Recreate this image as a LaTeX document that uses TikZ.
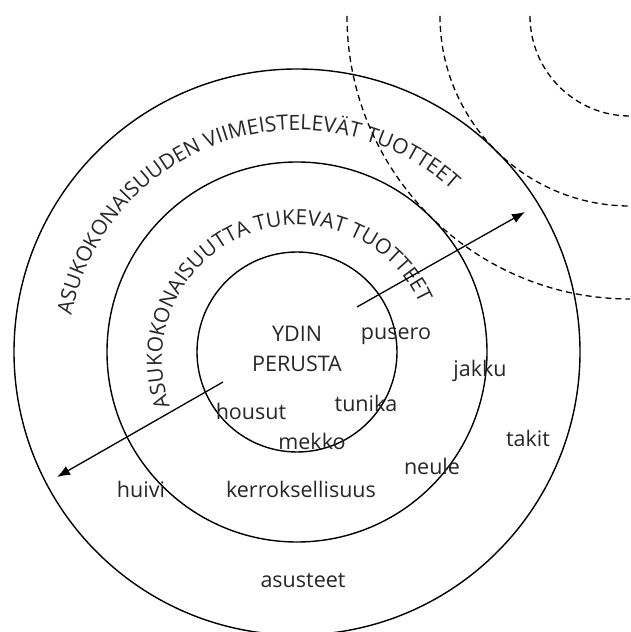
\documentclass[tikz,border=0pt]{standalone}
\usepackage{fontspec}
\setmainfont{Open Sans}
\usetikzlibrary{decorations.text,arrows.meta}
\tikzset{
  ring/.style={draw=black,line width=1.4pt},
  wave/.style={draw=black,line width=1.3pt,dash pattern=on 6pt off 4pt},
  item/.style={anchor=base,inner sep=0pt,text=black!85,font=\fontsize{21.5}{24}\selectfont},
  ringtext/.style={decorate,decoration={text along path,text align=center,
    text color=black!85,text={|\fontsize{21}{24}\selectfont|#1}}},
}
\begin{document}
\begin{tikzpicture}[x=1pt,y=1pt,>={Latex[length=13pt,width=10pt]},line join=bevel]
\useasboundingbox (0,0) rectangle (630,632);
%%
\coordinate (core) at (297,280);
\coordinate (txtc) at (297,272);
\coordinate (corner) at (630,616);
\draw[ring] (core) circle[radius=100];
\draw[ring] (core) circle[radius=190];
\draw[ring] (core) circle[radius=283];
%
\path[ringtext={ASUKOKONAISUUDEN VIIMEISTELEVÄT TUOTTEET}] (txtc) ++(178.2:230) arc[start angle=178.2,end angle=38.2,radius=230];
\path[ringtext={ASUKOKONAISUUTTA TUKEVAT TUOTTEET}] (txtc) ++(207.2:135) arc[start angle=207.2,end angle=17.2,radius=135];
%
\foreach \r in {100,190,283}
  \draw[wave] (corner) ++(180:\r) arc[start angle=180,end angle=270,radius=\r];
%
\node[item] (lbl_ydin) at (297,290) {YDIN};
\node[item] (lbl_perusta) at (297,260) {PERUSTA};
\node[item] (lbl_pusero) at (396,292) {pusero};
\node[item] (lbl_jakku) at (480,255) {jakku};
\node[item] (lbl_tunika) at (366,220) {tunika};
\node[item] (lbl_housut) at (251,212) {housut};
\node[item] (lbl_mekko) at (312,182) {mekko};
\node[item] (lbl_neule) at (432,157) {neule};
\node[item] (lbl_kerros) at (301,134) {kerroksellisuus};
\node[item] (lbl_huivi) at (141,134) {huivi};
\node[item] (lbl_takit) at (528,185) {takit};
\node[item] (lbl_asusteet) at (303,44) {asusteet};
%
\coordinate (out_a) at (357,325);
\coordinate (out_b) at (525,420);
\coordinate (in_a) at (223,250);
\coordinate (in_b) at (57,155);
\draw[->,line width=1.3pt] (out_a) -- (out_b);
\draw[->,line width=1.3pt] (in_a) -- (in_b);
%
\end{tikzpicture}
\end{document}
